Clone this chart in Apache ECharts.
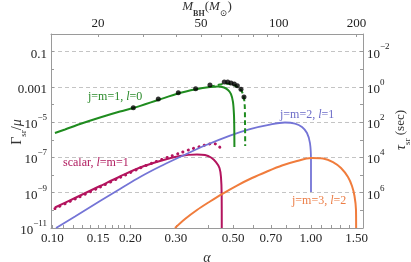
<!DOCTYPE html>
<html><head><meta charset="utf-8">
<script src="https://cdn.jsdelivr.net/npm/echarts@6/dist/echarts.min.js"></script>
<style>html,body{margin:0;padding:0;background:#fff}#c{width:411px;height:262px}</style>
</head><body><div id="c"></div>
<script>
// ---- tick labels ----
const alphaTicks = [0.10, 0.15, 0.20, 0.30, 0.50, 0.70, 1.00, 1.50];
const alphaMinorTicks = [0.11, 0.12, 0.13, 0.14, 0.16, 0.17, 0.18, 0.19, 0.4, 0.6, 0.8, 0.9, 1.1, 1.2, 1.3, 1.4];
const massTicks = [20, 50, 100, 200];
const massMinorTicks = [30, 40, 60, 70, 80, 90];
const massPerAlpha = 133.33;
const gammaLabelExps = [-11, -9, -7, -5, -3, -1];
const tauLabelExps = [-2, 0, 2, 4, 6];

// ---- series values ----
const vecAlpha = [0.1022,0.1118,0.1278,0.1527,0.1824,0.2054,0.2559,0.3058,0.3590,0.4066,0.4367,0.4607,0.4775,0.4904,0.4992,0.5036,0.5050,0.5055];
const vecGamma = [2.43e-6,3.84e-6,7.87e-6,1.84e-5,4.02e-5,6.35e-5,1.80e-4,4.22e-4,7.3e-4,9.8e-4,1.05e-3,9.2e-4,6.65e-4,3.94e-4,1.39e-4,2.55e-5,3.6e-6,3.9e-7];

const vecDashAlpha = [0.4066,0.4177,0.4446,0.469,0.4948,0.5173,0.536,0.5482,0.554,0.5555,0.5565];
const vecDashGamma = [9.8e-4,1.12e-3,1.36e-3,1.56e-3,1.36e-3,1.05e-3,6.65e-4,3.04e-4,9.4e-5,1.32e-5,4.5e-7];

const numAlpha = [0.2054,0.2566,0.3067,0.358,0.4066,0.4619,0.4763,0.4904,0.505,0.5188,0.536,0.5506];
const numGamma = [6.6e-5,2.06e-4,4.68e-4,7.9e-4,1.28e-3,1.89e-3,1.89e-3,1.66e-3,1.46e-3,1.17e-3,7.3e-4,2.67e-4];

const j2Alpha = [0.1032,0.1222,0.1527,0.1824,0.2181,0.2605,0.3113,0.3889,0.4861,0.5807,0.6941,0.7932,0.8671,0.9231,0.9650,0.9911,1.0,1.0];
const j2Gamma = [1e-11,4.49e-11,3.40e-10,1.63e-9,7.78e-9,3.06e-8,1.06e-7,4.75e-7,1.75e-6,4.09e-6,7.36e-6,9.57e-6,8.39e-6,5.32e-6,2.43e-6,6.59e-7,7.16e-8,1.10e-9];

const scalarAlpha = [0.1022,0.1222,0.1527,0.1824,0.2181,0.2605,0.3113,0.3622,0.3889,0.4104,0.4290,0.4426,0.4485,0.4513,0.4517];
const scalarGamma = [1.45e-10,5.02e-10,2.40e-9,8.32e-9,2.69e-8,6.28e-8,1.21e-7,1.47e-7,1.37e-7,9.93e-8,5.51e-8,2.52e-8,7.78e-9,7.43e-10,1e-11];

const scalarApproxAlpha = [0.1022,0.1222,0.1527,0.1824,0.2181,0.2491,0.2847,0.3113,0.3402,0.3720,0.3960,0.4177,0.4329,0.4446,0.4506];
const scalarApproxGamma = [1.27e-10,4.41e-10,2.11e-9,7.29e-9,2.52e-8,5.51e-8,1.13e-7,1.79e-7,2.82e-7,4.17e-7,5.42e-7,6.17e-7,5.42e-7,3.66e-7,2.32e-7];

const j3Alpha = [0.2978,0.3255,0.3622,0.4066,0.4525,0.5173,0.5913,0.6758,0.7723,0.8827,1.0,1.1127,1.2163,1.3064,1.3903,1.4408,1.4733,1.4932,1.4950];
const j3Gamma = [1e-11,3.24e-11,1.05e-10,3.18e-10,8.45e-10,2.56e-9,6.82e-9,1.60e-8,3.49e-8,6.28e-8,9.29e-8,8.71e-8,5.51e-8,2.52e-8,7.78e-9,2.40e-9,6.52e-10,1.05e-10,1e-11];

// ---- build ----
const L = Math.log10;
const pts = (xs, ys) => xs.map((a, i) => [L(a), L(ys[i])]);
const serif = '"Liberation Serif","DejaVu Serif",serif';
const xMin = -1.0058, xMax = 0.2012;
const axisGray = '#9a9a9a';
const titleColor = '#333';
const cGreen = '#1f8c1f', cBlue = '#7474d6', cCrimson = '#b3145e', cOrange = '#f07c3c';

const supRich = {
  b: {fontFamily: serif, fontSize: 13, color: '#222', lineHeight: 18, verticalAlign: 'bottom'},
  p: {fontFamily: serif, fontSize: 9, color: '#222', lineHeight: 10, verticalAlign: 'top'}
};
const pow10 = e => '{b|10}{p|' + (e < 0 ? '\u2212' + (-e) : e) + '}';

const titleRich = {
  n: {fontFamily: serif, fontSize: 13, fill: titleColor, lineHeight: 18, verticalAlign: 'top'},
  g: {fontFamily: serif, fontSize: 14, fill: titleColor, lineHeight: 18, verticalAlign: 'top'},
  i: {fontFamily: serif, fontStyle: 'italic', fontSize: 13, fill: titleColor, lineHeight: 18, verticalAlign: 'top'},
  ig: {fontFamily: serif, fontStyle: 'italic', fontSize: 14, fill: titleColor, lineHeight: 18, verticalAlign: 'top'},
  s: {fontFamily: serif, fontSize: 9, fill: titleColor, lineHeight: 9, verticalAlign: 'bottom'},
  sb: {fontFamily: serif, fontWeight: 'bold', fontSize: 8, fill: titleColor, lineHeight: 9, verticalAlign: 'bottom'}
};
const seriesLabel = (x, y, pre, post, color) => ({
  type: 'text', x: x, y: y, silent: true,
  style: {text: '{n|' + pre + '}{i|l}{n|' + post + '}', verticalAlign: 'middle',
    rich: {n: {fontFamily: serif, fontSize: 12, fill: color}, i: {fontFamily: serif, fontStyle: 'italic', fontSize: 12, fill: color}}}
});

const chart = echarts.init(document.getElementById('c'), null, {renderer: 'canvas'});
const option = {
  animation: false,
  backgroundColor: '#fff',
  grid: {left: 51, right: 48, top: 34, bottom: 34, containLabel: false, outerBoundsMode: 'none'},
  xAxis: [{
    type: 'value', position: 'bottom', min: xMin, max: xMax,
    axisLine: {show: true, onZero: false, lineStyle: {color: axisGray}},
    axisTick: {show: true, inside: true, length: 3, customValues: alphaTicks.concat(alphaMinorTicks).map(L), lineStyle: {color: axisGray}},
    axisLabel: {customValues: alphaTicks.map(L), formatter: v => Math.pow(10, v).toFixed(2), fontFamily: serif, fontSize: 13, color: '#222', margin: 4},
    splitLine: {show: false},
    name: 'α', nameLocation: 'middle', nameGap: 23,
    nameTextStyle: {fontFamily: serif, fontStyle: 'italic', fontSize: 14, color: titleColor}
  }, {
    type: 'value', position: 'top', min: xMin, max: xMax,
    axisLine: {show: true, onZero: false, lineStyle: {color: axisGray}},
    axisTick: {show: true, inside: true, length: 3, customValues: massTicks.concat(massMinorTicks).map(m => L(m / massPerAlpha)), lineStyle: {color: axisGray}},
    axisLabel: {customValues: massTicks.map(m => L(m / massPerAlpha)), formatter: v => String(Math.round(Math.pow(10, v) * massPerAlpha)), fontFamily: serif, fontSize: 13, color: '#222', margin: 4},
    splitLine: {show: false}
  }],
  yAxis: [{
    type: 'value', position: 'left', min: -11, max: 0, interval: 1,
    axisLine: {show: true, onZero: false, lineStyle: {color: axisGray}},
    axisTick: {show: true, inside: true, length: 3, lineStyle: {color: axisGray}},
    axisLabel: {
      formatter: v => {
        const e = Math.round(v);
        if (!gammaLabelExps.includes(e)) return '';
        if (e === -1) return '{b|0.1}';
        if (e === -3) return '{b|0.001}';
        return pow10(e);
      },
      rich: supRich, margin: 4
    },
    splitLine: {show: true, lineStyle: {color: ['#c4c4c4', 'rgba(0,0,0,0)'], type: [4, 3], width: 1}}
  }, {
    type: 'value', position: 'right', inverse: true, min: -3, max: 8, interval: 1,
    axisLine: {show: true, onZero: false, lineStyle: {color: axisGray}},
    axisTick: {show: true, inside: true, length: 3, lineStyle: {color: axisGray}},
    axisLabel: {customValues: tauLabelExps, formatter: v => pow10(Math.round(v)), rich: supRich, margin: 4},
    splitLine: {show: false}
  }],
  series: [
    {type: 'line', name: 'scalar approx', data: pts(scalarApproxAlpha, scalarApproxGamma), showSymbol: false, smooth: 0.3,
     lineStyle: {color: cCrimson, width: 3, type: [0.1, 5.5], cap: 'round'}, z: 2},
    {type: 'line', name: 'scalar', data: pts(scalarAlpha, scalarGamma), showSymbol: false, smooth: 0.3,
     lineStyle: {color: cCrimson, width: 2}, z: 3},
    {type: 'line', name: 'j=m=2', data: pts(j2Alpha, j2Gamma), showSymbol: false, smooth: 0.3,
     lineStyle: {color: cBlue, width: 1.8}, z: 3},
    {type: 'line', name: 'j=m=3', data: pts(j3Alpha, j3Gamma), showSymbol: false, smooth: 0.3,
     lineStyle: {color: cOrange, width: 2}, z: 3},
    {type: 'line', name: 'j=m=1', data: pts(vecAlpha, vecGamma), showSymbol: false, smooth: 0.3,
     lineStyle: {color: cGreen, width: 2}, z: 4},
    {type: 'line', name: 'j=m=1 dashed', data: pts(vecDashAlpha, vecDashGamma), showSymbol: false, smooth: 0.3,
     lineStyle: {color: cGreen, width: 2, type: [5, 3]}, z: 4},
    {type: 'scatter', name: 'numeric', data: pts(numAlpha, numGamma), symbol: 'circle', symbolSize: 5,
     itemStyle: {color: '#000'}, z: 5}
  ],
  graphic: [
    {type: 'text', x: 207, y: 9, silent: true,
     style: {text: '{i|M}{sb|BH}{n|(}{i|M}{s|⊙}{n|)}', align: 'center', verticalAlign: 'middle', rich: titleRich}},
    {type: 'text', x: 19, y: 132, rotation: Math.PI / 2, silent: true,
     style: {text: '{g|Γ}{s|sr}{g|/}{ig|μ}', align: 'center', verticalAlign: 'middle', rich: titleRich}},
    {type: 'text', x: 403, y: 130, rotation: Math.PI / 2, silent: true,
     style: {text: '{ig|τ}{s|sr}{n| (sec)}', align: 'center', verticalAlign: 'middle', rich: titleRich}},
    seriesLabel(88, 97, 'j=m=1, ', '=0', '#2a8a2a'),
    seriesLabel(280, 115, 'j=m=2, ', '=1', '#6c6cc8'),
    seriesLabel(63, 163, 'scalar, ', '=m=1', '#b01a5e'),
    seriesLabel(292, 201, 'j=m=3, ', '=2', '#ec7d45')
  ]
};
chart.setOption(option);
</script>
</body></html>
